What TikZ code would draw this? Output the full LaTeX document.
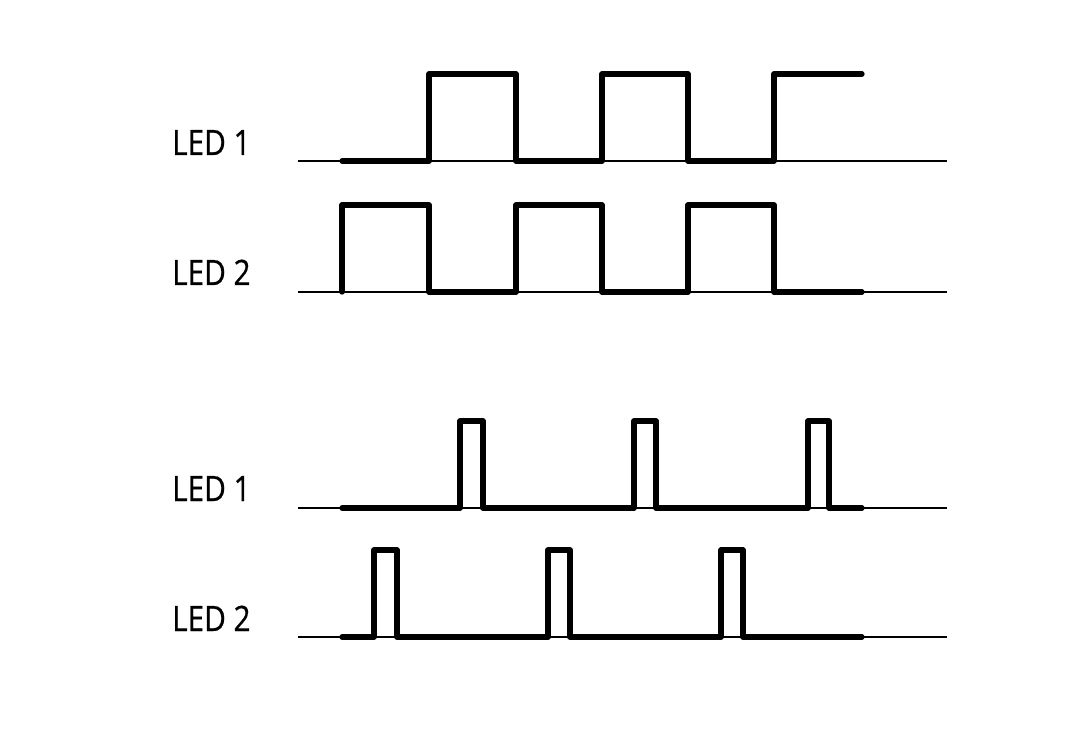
\documentclass[tikz,border=0pt]{standalone}
\usepackage{fontspec}
\setmainfont[FakeStretch=0.85, FakeBold=0.6]{Open Sans}

\begin{document}
\begin{tikzpicture}[x=1pt, y=-1pt,
    signal/.style={line width=5.3pt, line cap=round, line join=round},
    axis/.style={line width=1.2pt},
    ledlabel/.style={anchor=base west, inner sep=0pt, font=\fontsize{35}{35}\selectfont}]
    \useasboundingbox (0,0) rectangle (1090,735);
    % labels
    \node[ledlabel] (ledA1) at (172,155) {LED 1};
    \node[ledlabel] (ledA2) at (172,285) {LED 2};
    \node[ledlabel] (ledB1) at (172,501) {LED 1};
    \node[ledlabel] (ledB2) at (172,631) {LED 2};
    % base lines
    \draw[axis] (298,161) -- (947,161);
    \draw[axis] (298,292) -- (947,292);
    \draw[axis] (298,508) -- (947,508);
    \draw[axis] (298,637) -- (947,637);
    % alternating blink
    \draw[signal] (342,161) -- (429,161) -- (429,74) -- (516,74) -- (516,161) -- (602,161) -- (602,74)
        -- (688,74) -- (688,161) -- (774,161) -- (774,74) -- (862,74);
    \draw[signal] (342,292) -- (342,205) -- (429,205) -- (429,292) -- (516,292) -- (516,205) -- (602,205)
        -- (602,292) -- (688,292) -- (688,205) -- (774,205) -- (774,292) -- (862,292);
    % short pulses
    \draw[signal] (342,508) -- (460,508) -- (460,421) -- (483,421) -- (483,508) -- (634,508) -- (634,421)
        -- (656,421) -- (656,508) -- (808,508) -- (808,421) -- (829,421) -- (829,508) -- (862,508);
    \draw[signal] (342,637) -- (374,637) -- (374,550) -- (397,550) -- (397,637) -- (548,637) -- (548,550)
        -- (570,550) -- (570,637) -- (721,637) -- (721,550) -- (743,550) -- (743,637) -- (862,637);
\end{tikzpicture}
\end{document}
